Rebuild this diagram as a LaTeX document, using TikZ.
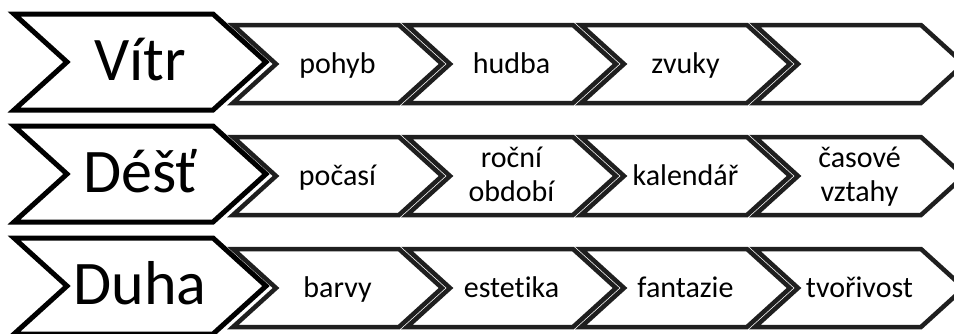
\documentclass[tikz,border=0pt]{standalone}
\usepackage{fontspec}
\setmainfont{Carlito}[Ligatures=CommonOff]

\begin{document}
\begin{tikzpicture}[
    x=1pt, y=-1pt,
    topic/.style={draw=black, line width=5pt, fill=white},
    item/.style={draw=black!88, line width=4.5pt, fill=white},
    topiclabel/.style={font=\fontsize{62}{70}\selectfont, inner sep=0pt, anchor=base},
    itemlabel/.style={font=\fontsize{30}{34}\selectfont, align=center, inner sep=0pt, anchor=base}
  ]
  \useasboundingbox (0,0) rectangle (954,333);

  \begin{scope}
    \clip (0,0) rectangle (954,333);
    % chevron rows
    \foreach \m in {62,174,286} {
      \draw[topic] (14,\m-48) -- (213,\m-48) -- (266,\m) -- (213,\m+48)
        -- (14,\m+48) -- (67,\m) -- cycle;
      \foreach \l in {233,407,581,755}
        \draw[item] (\l,\m-37) -- (\l+166,\m-37) -- (\l+209,\m+2)
          -- (\l+166,\m+41) -- (\l,\m+41) -- (\l+43,\m+2) -- cycle;
    }
  \end{scope}

  \node[topiclabel] (vitr) at (140,80) {Vítr};
  \node[itemlabel] (pohyb) at (337.5,73) {pohyb};
  \node[itemlabel] (hudba) at (511.5,73) {hudba};
  \node[itemlabel] (zvuky) at (685.5,73) {zvuky};

  \node[topiclabel] (dest) at (140,192) {Déšť};
  \node[itemlabel] (pocasi) at (337.5,185) {počasí};
  \node[itemlabel] (obdobi) at (511.5,201) {roční\\období};
  \node[itemlabel] (kalendar) at (685.5,185) {kalendář};
  \node[itemlabel] (vztahy) at (859.5,201) {časové\\vztahy};

  \node[topiclabel] (duha) at (140,304) {Duha};
  \node[itemlabel] (barvy) at (337.5,297) {barvy};
  \node[itemlabel] (estetika) at (511.5,297) {estetika};
  \node[itemlabel] (fantazie) at (685.5,297) {fantazie};
  \node[itemlabel] (tvorivost) at (859.5,297) {tvořivost};
\end{tikzpicture}
\end{document}
